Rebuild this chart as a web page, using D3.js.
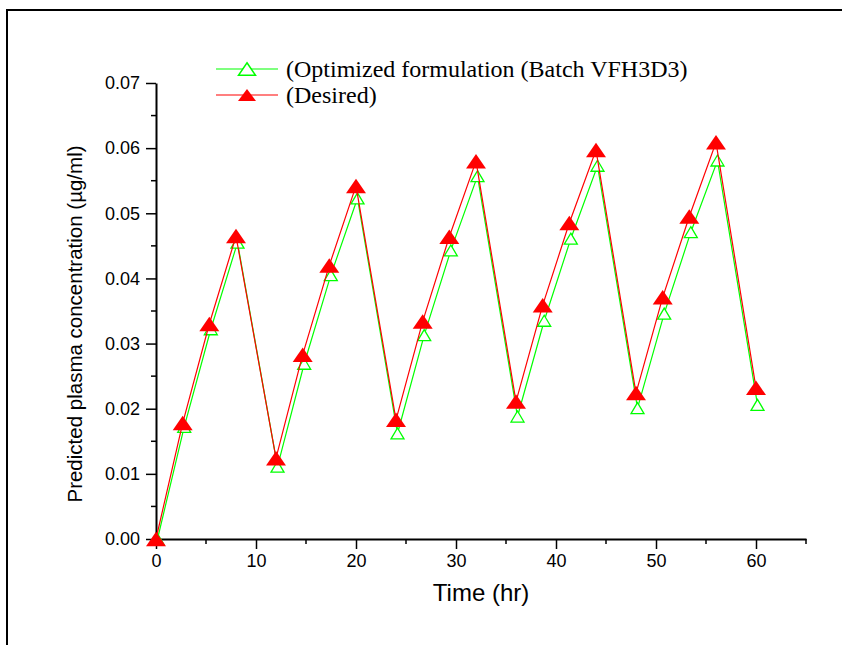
<!DOCTYPE html>
<html>
<head>
<meta charset="utf-8">
<script src="https://cdn.jsdelivr.net/npm/d3@7"></script>
<style>
  body { margin: 0; background: #fff; }
  svg { display: block; }
</style>
</head>
<body>
<div id="chart"></div>
<script>
// time points (hr), dose every 12 h
var time = [0, 2.67, 5.33, 8, 12, 14.67, 17.33, 20, 24, 26.67, 29.33, 32, 36, 38.67, 41.33, 44, 48, 50.67, 53.33, 56, 60];
// predicted plasma conc. (ug/ml)
var optimized = [0, 0.0172, 0.0322, 0.0455, 0.0111, 0.0269, 0.0405, 0.0523, 0.0162, 0.0313, 0.0443, 0.0557, 0.0188, 0.0335, 0.0461, 0.0573, 0.0201, 0.0346, 0.0471, 0.0581, 0.0206];
var desired = [0, 0.0178, 0.0330, 0.0465, 0.0124, 0.0283, 0.0420, 0.0542, 0.0183, 0.0334, 0.0464, 0.0580, 0.0211, 0.0359, 0.0485, 0.0597, 0.0224, 0.0371, 0.0495, 0.0609, 0.0232];
var xTicks = [0, 10, 20, 30, 40, 50, 60];
var xMinor = [5, 15, 25, 35, 45, 55, 65];
var yTicks = [0, 0.01, 0.02, 0.03, 0.04, 0.05, 0.06, 0.07];
var yMinor = [0.005, 0.015, 0.025, 0.035, 0.045, 0.055, 0.065];
var seriesNames = ["(Optimized formulation (Batch VFH3D3)", "(Desired)"];

var W = 842, H = 645;
var svg = d3.select("#chart").append("svg")
    .attr("width", W)
    .attr("height", H);

// outer frame (only left + top show)
svg.append("path")
    .attr("d", "M7," + H + "V10H" + W)
    .attr("fill", "none")
    .attr("stroke", "#000")
    .attr("stroke-width", 2);

var x = d3.scaleLinear().domain([0, 65]).range([156, 806]);
var y = d3.scaleLinear().domain([0, 0.07]).range([539, 83]);

var axisFont = "'Liberation Sans', Arial, sans-serif";

// x axis
var gx = svg.append("g").attr("transform", "translate(0," + y(0) + ")");
gx.call(d3.axisBottom(x).tickValues(xTicks).tickSize(10).tickSizeOuter(0).tickPadding(5).tickFormat(d3.format("d")));
gx.append("g").selectAll("line").data(xMinor).enter().append("line")
    .attr("x1", function(d){ return x(d); })
    .attr("x2", function(d){ return x(d); })
    .attr("y1", 0).attr("y2", 5);

// y axis
var gy = svg.append("g").attr("transform", "translate(" + x(0) + ",0)");
gy.call(d3.axisLeft(y).tickValues(yTicks).tickSize(10).tickSizeOuter(0).tickPadding(6).tickFormat(d3.format(".2f")));
gy.append("g").selectAll("line").data(yMinor).enter().append("line")
    .attr("y1", function(d){ return y(d); })
    .attr("y2", function(d){ return y(d); })
    .attr("x1", 0).attr("x2", -5);

svg.selectAll(".domain").attr("stroke", "#000").attr("stroke-width", 2);
svg.selectAll(".tick line").attr("stroke", "#000").attr("stroke-width", 1.5);
gx.selectAll("g > line").attr("stroke", "#000").attr("stroke-width", 1.5);
gy.selectAll("g > line").attr("stroke", "#000").attr("stroke-width", 1.5);
svg.selectAll(".tick text")
    .attr("fill", "#000")
    .style("font-family", axisFont)
    .style("font-size", "18px");

// axis titles
svg.append("text")
    .attr("x", 481).attr("y", 601)
    .attr("text-anchor", "middle")
    .style("font-family", axisFont)
    .style("font-size", "24px")
    .text("Time (hr)");

svg.append("text")
    .attr("transform", "translate(82,324) rotate(-90)")
    .attr("text-anchor", "middle")
    .style("font-family", axisFont)
    .style("font-size", "20.5px")
    .text("Predicted plasma concentration (\u00b5g/ml)");

// triangle path centred on 0,0
function tri(w, h) {
  return "M0," + (-h / 2) + "L" + (w / 2) + "," + (h / 2) + "L" + (-w / 2) + "," + (h / 2) + "Z";
}

var line = d3.line()
    .x(function(d){ return x(d[0]); })
    .y(function(d){ return y(d[1]); });

// optimized series (green, hollow) - sits slightly right of red in source
var gGreen = svg.append("g").attr("transform", "translate(1.5,0)");
var greenData = d3.zip(time, optimized);
gGreen.append("path")
    .datum(greenData)
    .attr("d", line)
    .attr("fill", "none")
    .attr("stroke", "#00ff00")
    .attr("stroke-width", 1.2);
gGreen.selectAll("path.mk").data(greenData).enter().append("path")
    .attr("class", "mk")
    .attr("d", tri(13, 11))
    .attr("transform", function(d){ return "translate(" + x(d[0]) + "," + y(d[1]) + ")"; })
    .attr("fill", "#fff")
    .attr("stroke", "#00ff00")
    .attr("stroke-width", 1.3);

// desired series (red, filled)
var redData = d3.zip(time, desired);
svg.append("path")
    .datum(redData)
    .attr("d", line)
    .attr("fill", "none")
    .attr("stroke", "#ff0000")
    .attr("stroke-width", 1.2);
svg.selectAll("path.mkr").data(redData).enter().append("path")
    .attr("class", "mkr")
    .attr("d", tri(20, 14.5))
    .attr("transform", function(d){ return "translate(" + x(d[0]) + "," + y(d[1]) + ")"; })
    .attr("fill", "#ff0000");

// legend
var leg = svg.append("g");
var legY = [69, 95];
var legCol = ["#00ff00", "#ff0000"];
seriesNames.forEach(function(name, i){
  leg.append("line")
      .attr("x1", 216).attr("x2", 278)
      .attr("y1", legY[i]).attr("y2", legY[i])
      .attr("stroke", legCol[i])
      .attr("stroke-width", 1.2);
  leg.append("path")
      .attr("d", i == 0 ? tri(17, 12.5) : tri(18, 12))
      .attr("transform", "translate(247," + legY[i] + ")")
      .attr("fill", i == 0 ? "#fff" : "#ff0000")
      .attr("stroke", i == 0 ? "#00ff00" : "none")
      .attr("stroke-width", 1.5);
  leg.append("text")
      .attr("x", 286).attr("y", legY[i] + 8)
      .style("font-family", "'Liberation Serif', 'Times New Roman', serif")
      .style("font-size", "24px")
      .attr("fill", "#000")
      .text(name);
});
</script>
</body>
</html>
